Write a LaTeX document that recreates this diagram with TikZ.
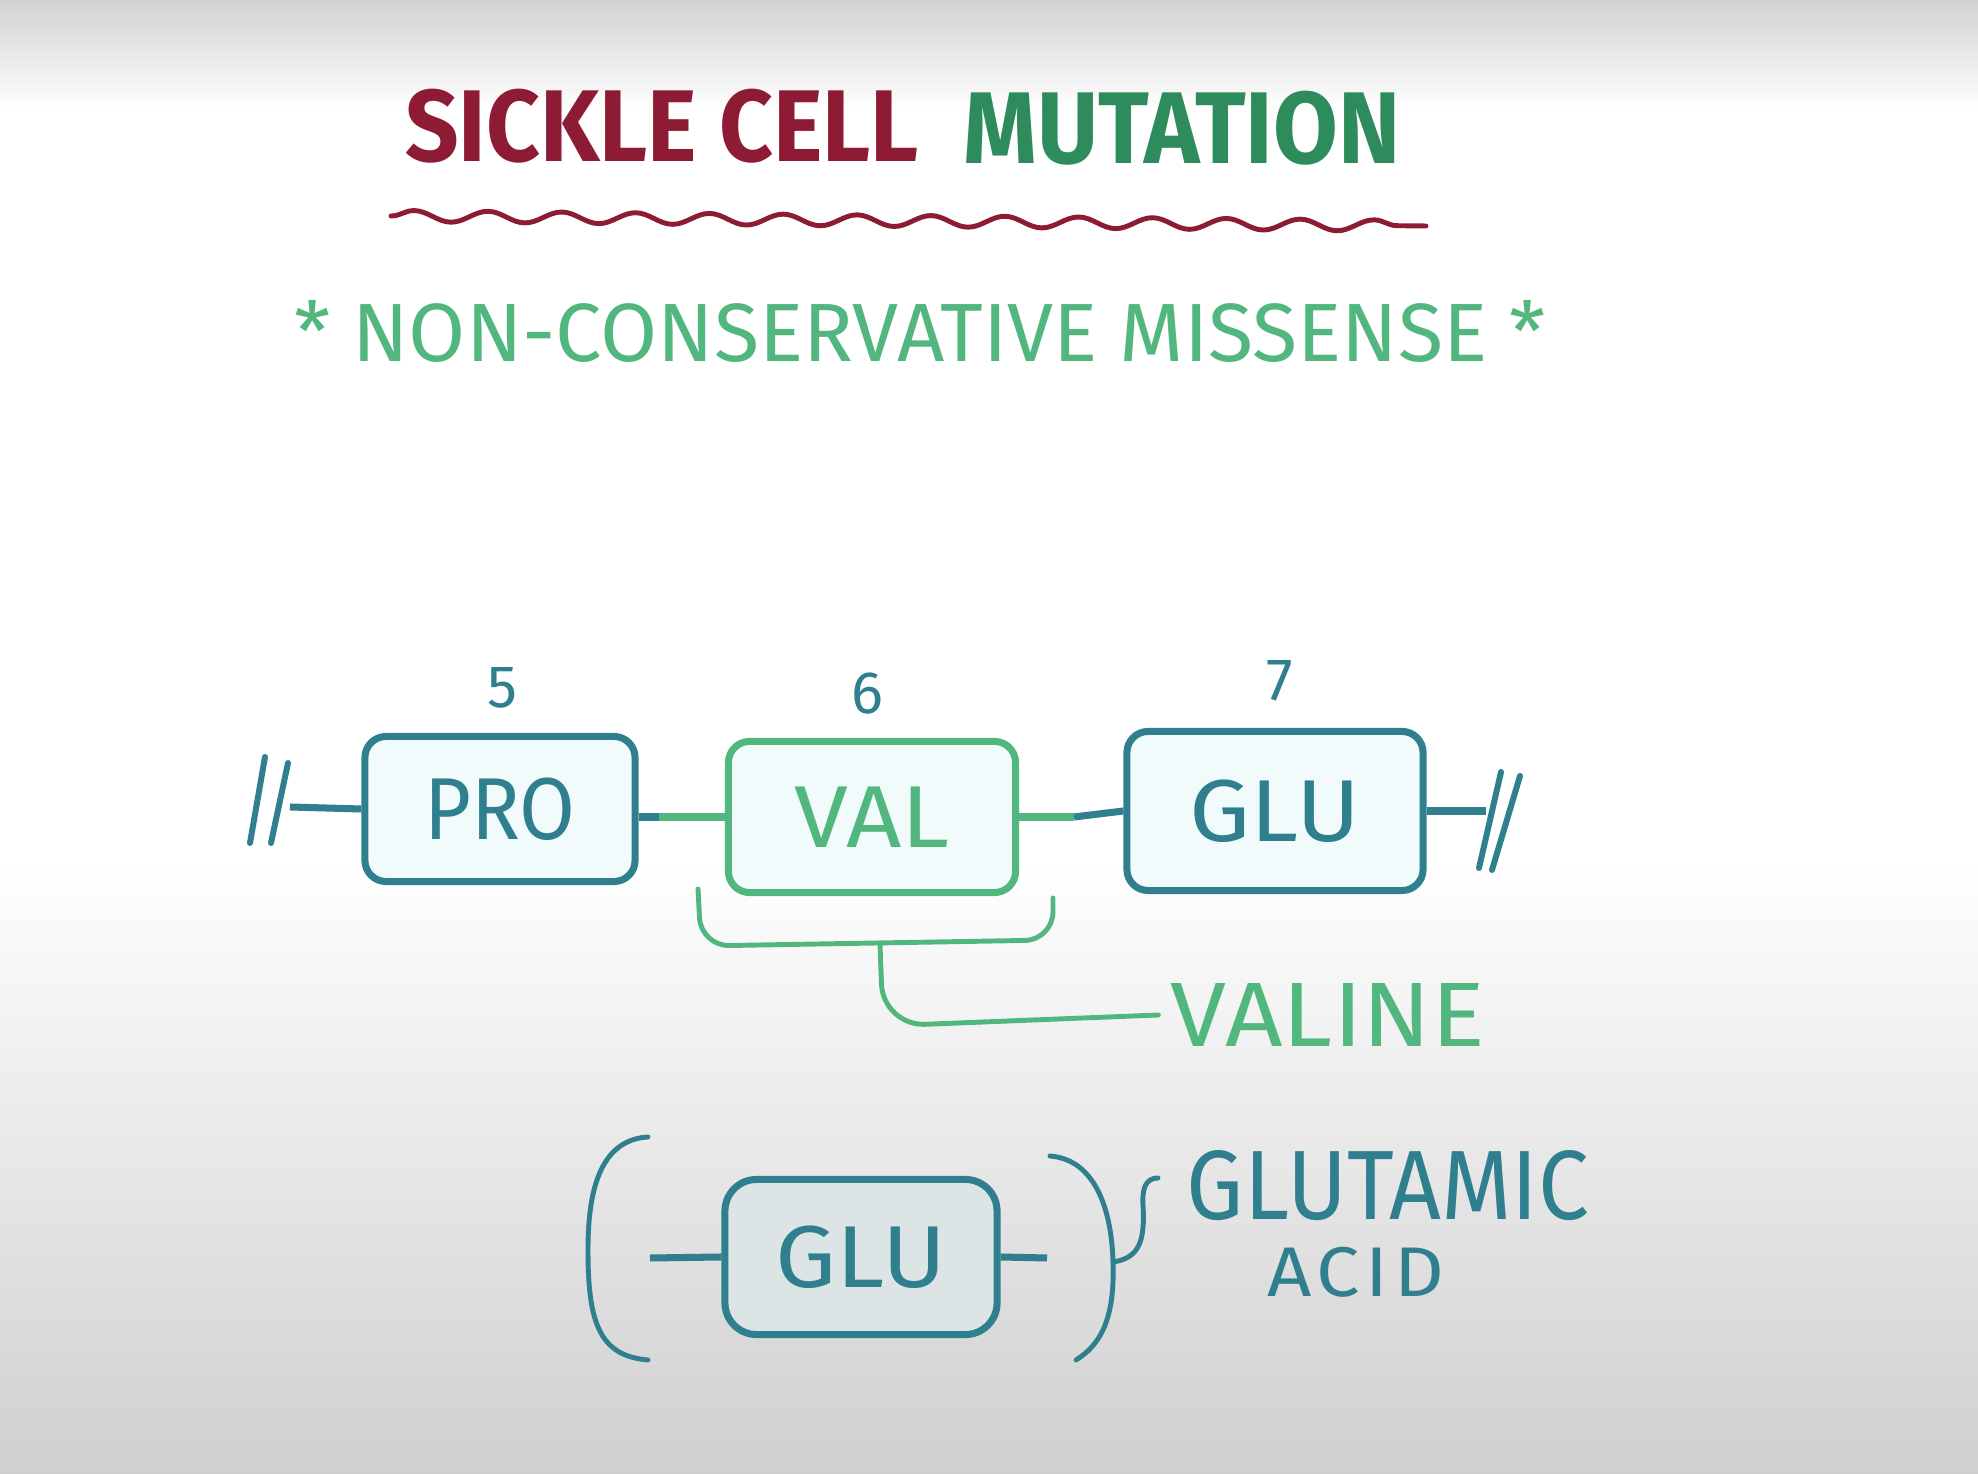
\documentclass[tikz,border=0pt]{standalone}
\usepackage{fontspec}
\setmainfont{Fira Sans}
\newfontfamily\narrowfont{Fira Sans}[FakeStretch=0.92]
\newfontfamily\widefont{Fira Sans}[FakeStretch=1.1]
\newfontfamily\spreadfont{Fira Sans}[FakeStretch=1.1,LetterSpace=8]
\usetikzlibrary{positioning,decorations.pathmorphing}
\definecolor{sickred}{HTML}{8E1B34}
\definecolor{mutgreen}{HTML}{2E8B5C}
\definecolor{mintgreen}{HTML}{52B77F}
\definecolor{tealblue}{HTML}{2F7F8F}
\definecolor{boxfill}{HTML}{F2FBFB}
\definecolor{grayfill}{HTML}{DCE4E5}
\definecolor{papertop}{HTML}{D2D2D2}
\definecolor{paperbot}{HTML}{CFCFCF}
\tikzset{
  resbox/.style={draw=tealblue,fill=boxfill,line width=2pt,rounded corners=6pt,minimum width=2.7cm,minimum height=1.45cm,text=tealblue,font=\widefont\fontsize{25}{25}\selectfont},
  mutbox/.style={resbox,draw=mintgreen,text=mintgreen},
  resnum/.style={text=tealblue,font=\fontsize{17}{17}\selectfont},
  bond/.style={draw=tealblue,line width=2pt},
  mutbond/.style={draw=mintgreen,line width=2pt},
  hand/.style={line width=1.4pt,line cap=round,line join=round}
}

\begin{document}
\begin{tikzpicture}[x=0.01cm,y=-0.01cm]
  \useasboundingbox (0,0) rectangle (1978,1474);
  \fill[white] (0,0) rectangle (1978,1474);
  \shade[top color=papertop,bottom color=white] (0,0) rectangle (1978,110);
  \shade[top color=white,bottom color=paperbot] (0,860) rectangle (1978,1474);

  % title
  \node[text=sickred,font=\narrowfont\bfseries\fontsize{29}{29}\selectfont] (sickle) at (662,126) {SICKLE CELL};
  \node[text=mutgreen,font=\narrowfont\bfseries\fontsize{29}{29}\selectfont] (mutation) at (1182,128) {MUTATION};
  \draw[sickred,hand,decorate,decoration={snake,amplitude=1.6pt,segment length=21pt}] (391,216) -- (1426,226);
  \node[text=mintgreen,font=\fontsize{23.5}{23.5}\selectfont] (missense) at (920,331) {* NON-CONSERVATIVE MISSENSE *};

  % chain
  \node[resbox,font=\narrowfont\fontsize{25}{25}\selectfont] (pro) at (500,809) {PRO};
  \node[mutbox,minimum width=2.87cm,minimum height=1.51cm] (val) at (872,817) {VAL};
  \node[resbox,minimum width=2.96cm,minimum height=1.59cm] (glu) at (1275,811) {GLU};
  \node[resnum] (n5) at (502,688) {5};
  \node[resnum] (n6) at (867,694) {6};
  \node[resnum] (n7) at (1280,681) {7};

  \coordinate (lcut) at (290,807);
  \coordinate (rcut) at (1486,811);
  \draw[bond] (lcut) -- (pro.west);
  \draw[bond] (pro.east |- val.west) -- ++(20,0) coordinate (pv);
  \draw[mutbond] (pv) -- (val.west);
  \draw[mutbond] (val.east) -- ++(55,0) coordinate (vg);
  \draw[bond] (vg) -- (glu.west);
  \draw[bond] (glu.east) -- (rcut);
  \draw[tealblue,hand,line width=1.7pt] (265,757) -- (250,843) (288,763) -- (271,843);
  \draw[tealblue,hand,line width=1.7pt] (1501,772) -- (1479,868) (1520,776) -- (1492,870);

  % valine bracket
  \draw[mintgreen,hand,rounded corners=8pt] (698,889) -- (701,946) -- (1053,940) -- (1053,898);
  \coordinate (vstem) at (880,944);
  \node[text=mintgreen,font=\widefont\fontsize{26}{26}\selectfont] (valine) at (1328,1015) {VALINE};
  \draw[mintgreen,hand,rounded corners=12pt] (vstem) -- (883,1026) -- (valine.west);

  % glutamic acid
  \node[resbox,fill=grayfill,rounded corners=9pt,minimum width=2.72cm,minimum height=1.55cm] (gluB) at (861,1257) {GLU};
  \coordinate (gl) at (650,1258);
  \coordinate (gr) at (1047,1258);
  \coordinate (gtip) at (1158,1178);
  \draw[bond] (gl) -- (gluB.west);
  \draw[bond] (gluB.east) -- (gr);
  \draw[tealblue,hand] (648,1137) .. controls (596,1140) and (588,1200) .. (588,1250) .. controls (588,1320) and (598,1356) .. (648,1360);
  \draw[tealblue,hand] (1050,1156) .. controls (1100,1160) and (1112,1220) .. (1113,1262) .. controls (1115,1320) and (1100,1345) .. (1076,1360);
  \draw[tealblue,hand] (1113,1262) .. controls (1140,1258) and (1145,1240) .. (1143,1205) .. controls (1142,1188) and (1146,1178) .. (gtip);
  \node[text=tealblue,font=\narrowfont\fontsize{28}{28}\selectfont] (glutamic) at (1388,1186) {GLUTAMIC};
  \node[text=tealblue,font=\spreadfont\fontsize{20}{20}\selectfont] (acid) at (1356,1272) {ACID};
\end{tikzpicture}
\end{document}
